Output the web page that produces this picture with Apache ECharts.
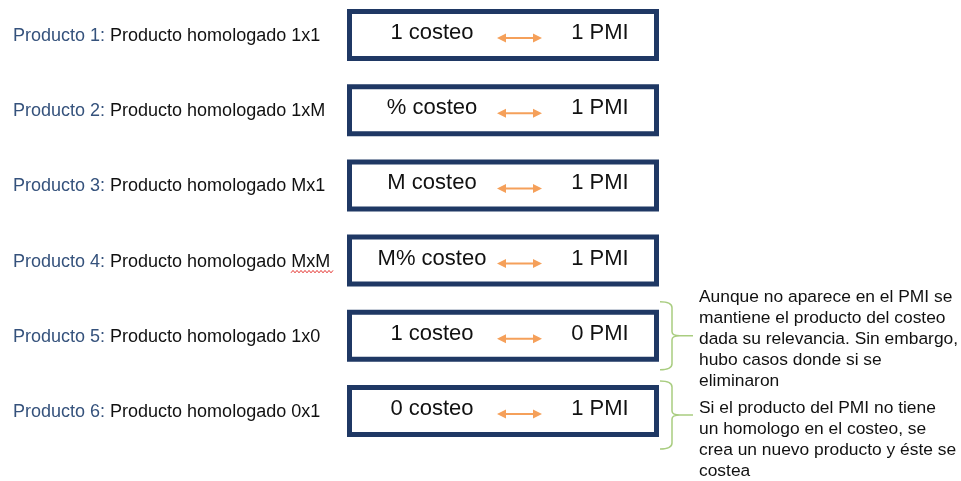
<!DOCTYPE html>
<html>
<head>
<meta charset="utf-8">
<script src="https://cdn.jsdelivr.net/npm/echarts@6/dist/echarts.min.js"></script>
<style>html,body{margin:0;padding:0;background:#fff;}#c{width:961px;height:481px;}</style>
</head>
<body>
<div id="c"></div>
<script>
const products = ['Producto 1:', 'Producto 2:', 'Producto 3:', 'Producto 4:', 'Producto 5:', 'Producto 6:'];
const types = ['Producto homologado 1x1', 'Producto homologado 1xM', 'Producto homologado Mx1', 'Producto homologado MxM', 'Producto homologado 1x0', 'Producto homologado 0x1'];
const costeo = ['1 costeo', '% costeo', 'M costeo', 'M% costeo', '1 costeo', '0 costeo'];
const pmi = ['1 PMI', '1 PMI', '1 PMI', '1 PMI', '0 PMI', '1 PMI'];
const notes = ['', '', '', '',
  'Aunque no aparece en el PMI se\nmantiene el producto del costeo\ndada su relevancia. Sin embargo,\nhubo casos donde si se\neliminaron',
  'Si el producto del PMI no tiene\nun homologo en el costeo, se\ncrea un nuevo producto y éste se\ncostea'];

const FONT = '"Liberation Sans", Arial, sans-serif';
const NAVY = '#1F3864';
const ORANGE = '#F5A05A';
const GREEN = '#A9CD80';

function renderItem(params, api) {
  const i = params.dataIndex;
  const y = api.coord([0, api.value(1)])[1];
  const children = [];
  children.push({
    type: 'text',
    style: {
      x: 13, y: y + 1,
      text: '{a|' + products[i] + '}{b|\u00a0' + types[i] + '}',
      verticalAlign: 'middle', align: 'left',
      rich: {
        a: { fontFamily: FONT, fontSize: 18, fill: '#35527C' },
        b: { fontFamily: FONT, fontSize: 18, fill: '#111' }
      }
    }
  });
  if (types[i].endsWith('MxM')) {
    const pts = [];
    for (let x = 291, k = 0; x <= 334; x += 2, k++) pts.push([x, y + 11 + (k % 2 ? -1.2 : 1.2)]);
    children.push({ type: 'polyline', shape: { points: pts }, style: { stroke: '#E53935', lineWidth: 1, fill: null } });
  }
  children.push({
    type: 'rect',
    shape: { x: 349.5, y: y - 23.5, width: 307, height: 47 },
    style: { fill: '#fff', stroke: NAVY, lineWidth: 5 }
  });
  children.push({
    type: 'text',
    style: { x: 432, y: y - 2, text: costeo[i], align: 'center', verticalAlign: 'middle', fontFamily: FONT, fontSize: 22, fill: '#111' }
  });
  children.push({
    type: 'text',
    style: { x: 600, y: y - 2, text: pmi[i], align: 'center', verticalAlign: 'middle', fontFamily: FONT, fontSize: 22, fill: '#111' }
  });
  const ay = y + 3;
  children.push({ type: 'line', shape: { x1: 502, y1: ay, x2: 537, y2: ay }, style: { stroke: ORANGE, lineWidth: 2 } });
  children.push({ type: 'polygon', shape: { points: [[497, ay], [506, ay - 4.5], [506, ay + 4.5]] }, style: { fill: ORANGE } });
  children.push({ type: 'polygon', shape: { points: [[542, ay], [533, ay - 4.5], [533, ay + 4.5]] }, style: { fill: ORANGE } });
  if (notes[i]) {
    const first = i === 4;
    const mid = first ? y : y + 4;
    const top = mid - 34, bot = mid + 34;
    children.push({
      type: 'path',
      shape: { pathData: 'M660 ' + top + ' Q672 ' + top + ' 672 ' + (top + 6) + ' L672 ' + (mid - 4) + ' Q672 ' + mid + ' 680 ' + mid + ' L693 ' + mid +
        ' M680 ' + mid + ' Q672 ' + mid + ' 672 ' + (mid + 4) + ' L672 ' + (bot - 6) + ' Q672 ' + bot + ' 660 ' + bot },
      style: { stroke: GREEN, lineWidth: 1.5, fill: null }
    });
    children.push({
      type: 'text',
      style: {
        x: 699, y: first ? y + 3 : y - 13,
        text: notes[i], align: 'left', verticalAlign: first ? 'middle' : 'top',
        fontFamily: FONT, fontSize: 17.4, lineHeight: 21, fill: '#111'
      }
    });
  }
  return { type: 'group', children: children };
}

const chart = echarts.init(document.getElementById('c'), null, { renderer: 'canvas' });
chart.setOption({
  animation: false,
  backgroundColor: '#fff',
  grid: { left: 0, right: 0, top: 35, bottom: 70 },
  xAxis: { type: 'value', min: 0, max: 961, show: false },
  yAxis: { type: 'category', data: products, inverse: true, boundaryGap: false, show: false },
  series: [{
    type: 'custom',
    clip: false,
    renderItem: renderItem,
    data: products.map((p, i) => [0, i])
  }]
});
</script>
</body>
</html>
